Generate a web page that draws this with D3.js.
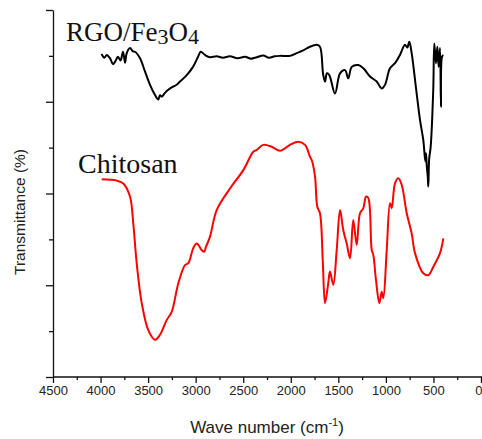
<!DOCTYPE html>
<html>
<head>
<meta charset="utf-8">
<script src="https://cdn.jsdelivr.net/npm/d3@7"></script>
<style>
  body { margin: 0; background: #fff; }
  svg { display: block; }
</style>
</head>
<body>
<svg id="chart"></svg>
<script>
// ------------------ data (wave number cm-1, transmittance) ---------------------

let rgoWave = [3990, 3960, 3935, 3901, 3870, 3848, 3817, 3790, 3764, 3743, 3725, 3690, 3660, 3638, 3585, 3533, 3480, 3428, 3393, 3375, 3357, 3320, 3288, 3238, 3200, 3165, 3094, 3028, 2975, 2947, 2902, 2849, 2780, 2713, 2640, 2560, 2480, 2420, 2358, 2290, 2230, 2170, 2113, 2008, 1938, 1870, 1798, 1727, 1693, 1660, 1640, 1620, 1595, 1535, 1482, 1430, 1395, 1359, 1290, 1237, 1167, 1097, 1044, 1009, 957, 904, 852, 799, 775, 754, 729, 683, 641, 607, 585, 578, 570, 560, 554, 545, 529, 502, 491, 473, 459, 445, 431, 421, 410, 396];
let rgoT    = [70.4, 69.6, 70.2, 69.5, 68.2, 68.7, 69.8, 69.0, 70.9, 68.5, 70.6, 71.7, 71.0, 70.9, 69.5, 66.6, 63.7, 61.5, 60.5, 61.4, 61.1, 62.0, 62.6, 63.3, 63.7, 64.4, 65.8, 67.6, 69.8, 70.9, 70.2, 69.7, 69.9, 69.6, 69.9, 69.5, 69.8, 69.4, 69.7, 70.1, 69.6, 69.9, 70.0, 70.0, 70.6, 71.2, 72.0, 72.4, 72.0, 66.0, 64.4, 66.2, 65.8, 61.8, 66.2, 66.9, 65.1, 67.6, 68.0, 67.3, 65.5, 64.4, 62.9, 63.7, 67.3, 68.4, 70.2, 72.4, 71.8, 73.1, 70.6, 62.9, 56.0, 51.7, 47.0, 48.8, 46.0, 43.7, 41.5, 47.5, 50.2, 62.6, 72.7, 68.4, 72.0, 67.6, 71.7, 58.9, 69.8, 70.2];

let chitWave = [3988, 3900, 3830, 3761, 3690, 3656, 3620, 3567, 3498, 3428, 3375, 3305, 3252, 3183, 3112, 3077, 3025, 2989, 2937, 2912, 2891, 2849, 2779, 2639, 2499, 2394, 2358, 2289, 2201, 2113, 2008, 1921, 1850, 1798, 1780, 1745, 1721, 1693, 1664, 1640, 1606, 1588, 1553, 1517, 1482, 1448, 1412, 1377, 1343, 1307, 1272, 1237, 1209, 1185, 1149, 1132, 1104, 1069, 1044, 1027, 991, 957, 939, 904, 870, 834, 781, 729, 694, 607, 554, 502, 431, 396];
let chitT    = [43.1, 43.0, 42.8, 42.2, 39.3, 33.5, 24.8, 16.1, 10.2, 8.1, 9.2, 12.4, 14.2, 20.4, 24.4, 24.8, 28.1, 29.1, 27.7, 27.3, 28.4, 30.6, 36.4, 41.1, 45.1, 49.1, 49.5, 50.6, 50.2, 49.3, 50.6, 51.3, 50.6, 48.0, 47.3, 43.7, 37.1, 35.7, 25.5, 16.1, 20.4, 23.0, 20.1, 27.7, 36.4, 32.0, 29.1, 25.9, 34.2, 28.8, 35.7, 36.8, 39.3, 39.0, 27.7, 26.6, 21.1, 16.1, 18.6, 17.2, 27.7, 37.9, 36.8, 42.2, 43.3, 41.9, 35.7, 31.3, 27.0, 22.6, 22.2, 24.0, 27.0, 30.2];

let xTicks = [4500, 4000, 3500, 3000, 2500, 2000, 1500, 1000, 500, 0];

// ------------------ layout ---------------------

let svgWidth = 482;
let svgHeight = 439;

let svg = d3.select('#chart')
    .attr('width', svgWidth)
    .attr('height', svgHeight);

let xScale = d3.scaleLinear()
    .domain([4500, 0])
    .range([53, 481]);

let yScale = d3.scaleLinear()
    .domain([0, 80])
    .range([377, 10]);

// ------------------ axes ---------------------

let xMinor = d3.range(4250, 0, -500);

svg.append('g')
    .attr('transform', 'translate(0,377)')
    .call(d3.axisBottom(xScale).tickValues(xTicks).tickFormat(d3.format('d')).tickSize(6).tickSizeOuter(0).tickPadding(3))
    .call(g => g.select('.domain').attr('d', 'M53,0H482'))
    .call(g => g.selectAll('text').attr('font-family', 'Liberation Sans, Arial, sans-serif').attr('font-size', 13).attr('fill', '#222'))
    .call(g => g.selectAll('.tick text').filter(d => d === 0).attr('text-anchor', 'end').attr('x', 1));

svg.append('g')
    .attr('transform', 'translate(0,377)')
    .call(d3.axisBottom(xScale).tickValues(xMinor).tickSize(3).tickFormat(''))
    .call(g => g.select('.domain').remove());

svg.append('g')
    .attr('transform', 'translate(53,0)')
    .call(d3.axisLeft(yScale).tickValues([0, 20, 40, 60, 80]).tickSize(7).tickSizeOuter(0).tickFormat(''));

svg.append('g')
    .attr('transform', 'translate(53,0)')
    .call(d3.axisLeft(yScale).tickValues([10, 30, 50, 70]).tickSize(4).tickFormat(''))
    .call(g => g.select('.domain').remove());

svg.selectAll('.domain, .tick line').attr('stroke', '#111').attr('stroke-width', 1.3);

// ------------------ axis titles ---------------------

let xLabel = svg.append('text')
    .attr('x', 267)
    .attr('y', 433)
    .attr('text-anchor', 'middle')
    .attr('font-family', 'Liberation Sans, Arial, sans-serif')
    .attr('font-size', 17)
    .attr('fill', '#222');
xLabel.append('tspan').text('Wave number (cm');
xLabel.append('tspan').attr('font-size', 11).attr('dy', -7).text('-1');
xLabel.append('tspan').attr('dy', 7).text(')');

svg.append('text')
    .attr('transform', 'translate(25,212) rotate(-90)')
    .attr('text-anchor', 'middle')
    .attr('font-family', 'Liberation Sans, Arial, sans-serif')
    .attr('font-size', 15.5)
    .attr('fill', '#222')
    .text('Transmittance (%)');

// ------------------ spectra ---------------------

let line = d3.line()
    .x(d => xScale(d[0]))
    .y(d => yScale(d[1]))
    .curve(d3.curveCatmullRom.alpha(0.5));

svg.append('path')
    .datum(rgoWave.map((w, i) => [w, rgoT[i]]))
    .attr('d', line)
    .attr('fill', 'none')
    .attr('stroke', '#000')
    .attr('stroke-width', 2)
    .attr('stroke-linejoin', 'round');

svg.append('path')
    .datum(chitWave.map((w, i) => [w, chitT[i]]))
    .attr('d', line)
    .attr('fill', 'none')
    .attr('stroke', '#ff0000')
    .attr('stroke-width', 2)
    .attr('stroke-linejoin', 'round');

// ------------------ curve names ---------------------

let rgoLabel = svg.append('text')
    .attr('x', 66)
    .attr('y', 41)
    .attr('font-family', 'Liberation Serif, Times New Roman, serif')
    .attr('font-size', 27)
    .attr('fill', '#111');
rgoLabel.append('tspan').text('RGO/Fe');
rgoLabel.append('tspan').attr('font-size', 22).attr('dy', 3).text('3');
rgoLabel.append('tspan').attr('dy', -3).text('O');
rgoLabel.append('tspan').attr('font-size', 22).attr('dy', 3).text('4');

svg.append('text')
    .attr('x', 78)
    .attr('y', 173)
    .attr('font-family', 'Liberation Serif, Times New Roman, serif')
    .attr('font-size', 28)
    .attr('fill', '#111')
    .text('Chitosan');
</script>
</body>
</html>
